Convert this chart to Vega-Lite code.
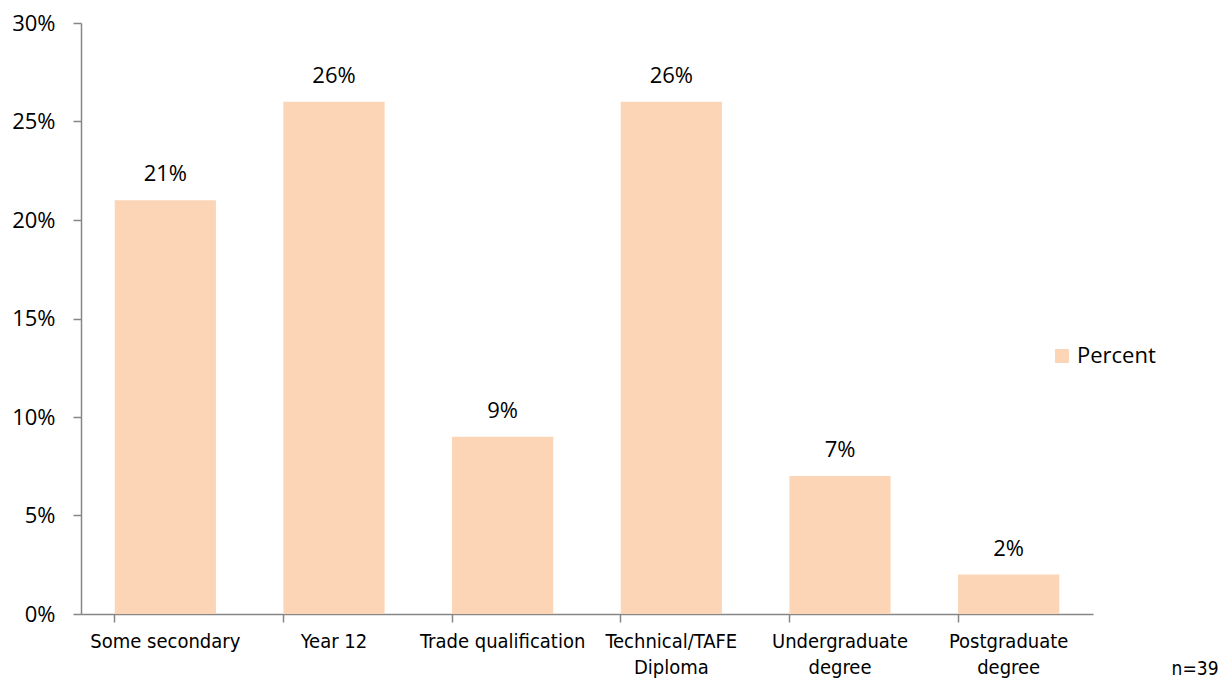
{
  "$schema": "https://vega.github.io/schema/vega-lite/v6.json",
  "width": 1012,
  "height": 591,
  "autosize": {"type": "none"},
  "padding": {"left": 81, "top": 23, "right": 127, "bottom": 67},
  "background": "white",
  "config": {"view": {"stroke": null}, "font": "Open Sans"},
  "data": {
    "values": [
      {"category": "Some secondary", "value": 0.21, "series": "Percent"},
      {"category": "Year 12", "value": 0.26, "series": "Percent"},
      {"category": "Trade qualification", "value": 0.09, "series": "Percent"},
      {"category": "Technical/TAFE Diploma", "value": 0.26, "series": "Percent"},
      {"category": "Undergraduate degree", "value": 0.07, "series": "Percent"},
      {"category": "Postgraduate degree", "value": 0.02, "series": "Percent"}
    ]
  },
  "encoding": {
    "x": {
      "field": "category",
      "type": "nominal",
      "sort": null,
      "scale": {"paddingInner": 0.4, "paddingOuter": 0.2},
      "axis": {
        "title": "n=39",
        "titleX": 1137,
        "titleY": 60,
        "titleAlign": "right",
        "titleBaseline": "alphabetic",
        "titleFont": "DejaVu Sans Condensed, Roboto, sans-serif",
        "titleFontSize": 19,
        "titleFontWeight": "normal",
        "titleColor": "#000000",
        "labelAngle": 0,
        "bandPosition": 0,
        "labelFont": "DejaVu Sans Condensed, Roboto, sans-serif",
        "labelFontSize": 20,
        "labelColor": "#000000",
        "labelPadding": 9,
        "labelBaseline": "top",
        "labelLineHeight": 26,
        "tickSize": 8,
        "tickColor": "#868686",
        "domainColor": "#868686",
        "domainWidth": 1.5,
        "tickWidth": 1.5,
        "labelExpr": "datum.value=='Technical/TAFE Diploma'?['Technical/TAFE','Diploma']:datum.value=='Undergraduate degree'?['Undergraduate','degree']:datum.value=='Postgraduate degree'?['Postgraduate','degree']:datum.value"
      }
    },
    "y": {
      "field": "value",
      "type": "quantitative",
      "scale": {"domain": [0, 0.3], "nice": false},
      "axis": {
        "title": null,
        "format": ".0%",
        "values": [0, 0.05, 0.1, 0.15, 0.2, 0.25, 0.3],
        "grid": false,
        "labelFontSize": 22,
        "labelColor": "#000000",
        "labelPadding": 18,
        "tickSize": 8,
        "tickColor": "#868686",
        "domainColor": "#868686",
        "domainWidth": 1.5,
        "tickWidth": 1.5
      }
    }
  },
  "layer": [
    {
      "mark": {"type": "bar", "color": "#FBD5B5"},
      "encoding": {
        "color": {
          "field": "series",
          "type": "nominal",
          "scale": {"range": ["#FBD5B5"]},
          "legend": {
            "title": null,
            "orient": "none",
            "legendX": 970,
            "legendY": 322,
            "symbolType": "square",
            "symbolSize": 196,
            "symbolStrokeWidth": 0,
            "labelFontSize": 22,
            "labelColor": "#000000",
            "labelOffset": 4
          }
        }
      }
    },
    {
      "mark": {"type": "text", "dy": -19, "baseline": "alphabetic", "fontSize": 22, "color": "#000000"},
      "encoding": {
        "text": {"field": "value", "type": "quantitative", "format": ".0%"}
      }
    }
  ]
}
